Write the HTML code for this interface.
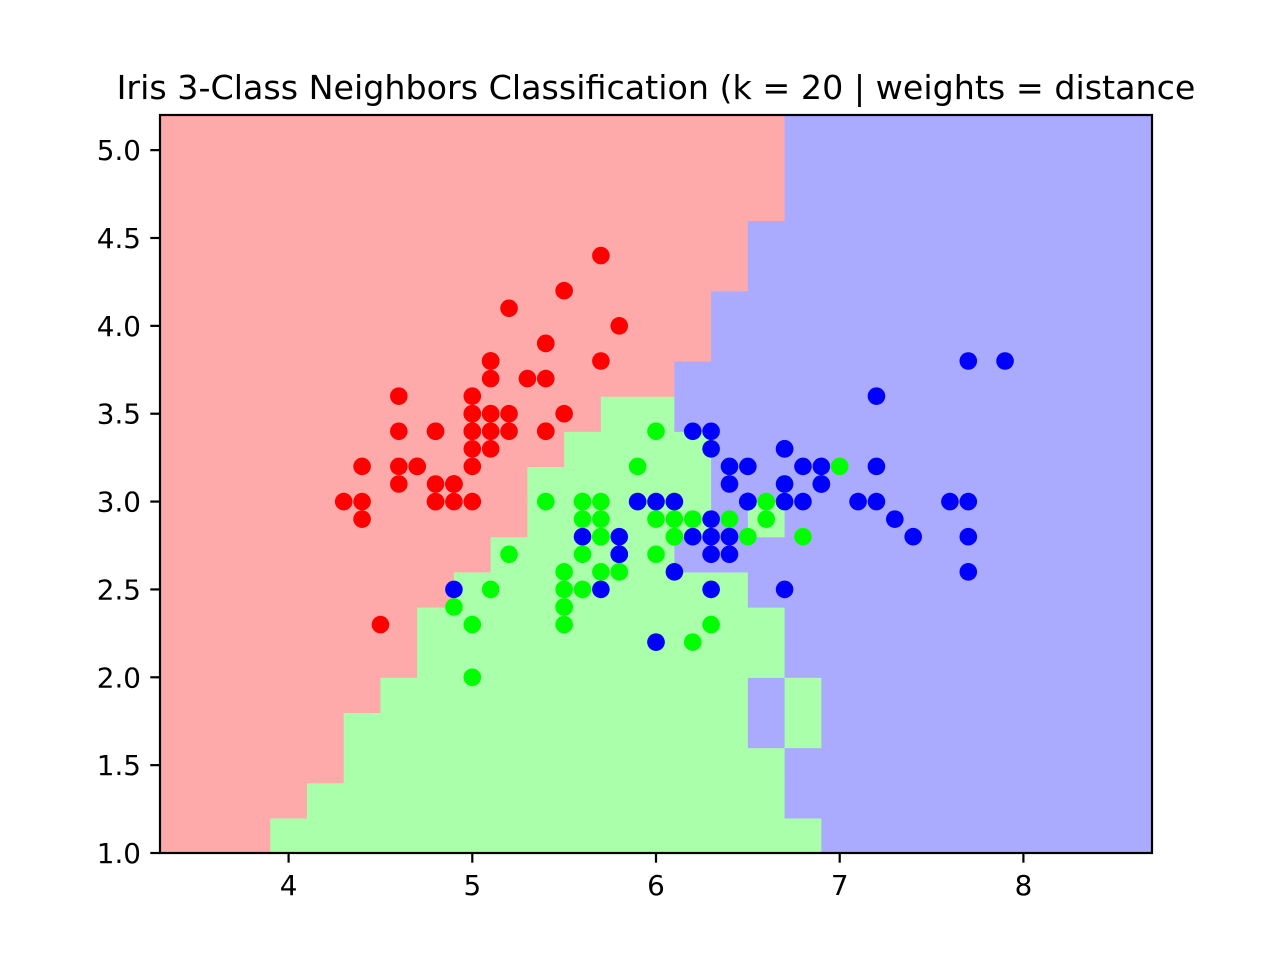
<!DOCTYPE html>
<html><head><meta charset="utf-8"><style>
body{margin:0;background:#fff}
svg{display:block;font-family:"DejaVu Sans","Liberation Sans",sans-serif}
</style></head><body>
<svg id="chart" width="1280" height="960">
<text x="656" y="99" text-anchor="middle" font-size="33.3" fill="#000">Iris 3-Class Neighbors Classification (k = 20 | weights = distance</text>
<g id="mesh"></g>
<g id="pts"></g>
<g id="axes"></g>
</svg>
<script>
// decision grid rows bottom→top (y from 1.0 step 0.2), cols x from 3.3 step 0.2; R/G/B
const gridRows = [
"RRRGGGGGGGGGGGGGGGBBBBBBBBB",
"RRRRGGGGGGGGGGGGGBBBBBBBBBB",
"RRRRRGGGGGGGGGGGGBBBBBBBBBB",
"RRRRRGGGGGGGGGGGBGBBBBBBBBB",
"RRRRRRGGGGGGGGGGBGBBBBBBBBB",
"RRRRRRRGGGGGGGGGGBBBBBBBBBB",
"RRRRRRRGGGGGGGGGGBBBBBBBBBB",
"RRRRRRRRGGGGGGGGBBBBBBBBBBB",
"RRRRRRRRRGGGGGBBBBBBBBBBBBB",
"RRRRRRRRRRGGGGGBGBBBBBBBBBB",
"RRRRRRRRRRGGGGGBBBBBBBBBBBB",
"RRRRRRRRRRRGGGGBBBBBBBBBBBB",
"RRRRRRRRRRRRGGBBBBBBBBBBBBB",
"RRRRRRRRRRRRRRBBBBBBBBBBBBB",
"RRRRRRRRRRRRRRRBBBBBBBBBBBB",
"RRRRRRRRRRRRRRRBBBBBBBBBBBB",
"RRRRRRRRRRRRRRRRBBBBBBBBBBB",
"RRRRRRRRRRRRRRRRBBBBBBBBBBB",
"RRRRRRRRRRRRRRRRRBBBBBBBBBB",
"RRRRRRRRRRRRRRRRRBBBBBBBBBB",
"RRRRRRRRRRRRRRRRRBBBBBBBBBB"];
const setosa = [[5.1,3.5],[4.9,3.0],[4.7,3.2],[4.6,3.1],[5.0,3.6],[5.4,3.9],[4.6,3.4],[5.0,3.4],[4.4,2.9],[4.9,3.1],[5.4,3.7],[4.8,3.4],[4.8,3.0],[4.3,3.0],[5.8,4.0],[5.7,4.4],[5.4,3.9],[5.1,3.5],[5.7,3.8],[5.1,3.8],[5.4,3.4],[5.1,3.7],[4.6,3.6],[5.1,3.3],[4.8,3.4],[5.0,3.0],[5.0,3.4],[5.2,3.5],[5.2,3.4],[4.7,3.2],[4.8,3.1],[5.4,3.4],[5.2,4.1],[5.5,4.2],[4.9,3.1],[5.0,3.2],[5.5,3.5],[4.9,3.1],[4.4,3.0],[5.1,3.4],[5.0,3.5],[4.5,2.3],[4.4,3.2],[5.0,3.5],[5.1,3.8],[4.8,3.0],[5.1,3.8],[4.6,3.2],[5.3,3.7],[5.0,3.3]];
const versicolor = [[7.0,3.2],[6.4,3.2],[6.9,3.1],[5.5,2.3],[6.5,2.8],[5.7,2.8],[6.3,3.3],[4.9,2.4],[6.6,2.9],[5.2,2.7],[5.0,2.0],[5.9,3.0],[6.0,2.2],[6.1,2.9],[5.6,2.9],[6.7,3.1],[5.6,3.0],[5.8,2.7],[6.2,2.2],[5.6,2.5],[5.9,3.2],[6.1,2.8],[6.3,2.5],[6.1,2.8],[6.4,2.9],[6.6,3.0],[6.8,2.8],[6.7,3.0],[6.0,2.9],[5.7,2.6],[5.5,2.4],[5.5,2.4],[5.8,2.7],[6.0,2.7],[5.4,3.0],[6.0,3.4],[6.7,3.1],[6.3,2.3],[5.6,3.0],[5.5,2.5],[5.5,2.6],[6.1,3.0],[5.8,2.6],[5.0,2.3],[5.6,2.7],[5.7,3.0],[5.7,2.9],[6.2,2.9],[5.1,2.5],[5.7,2.8]];
const virginica = [[6.3,3.3],[5.8,2.7],[7.1,3.0],[6.3,2.9],[6.5,3.0],[7.6,3.0],[4.9,2.5],[7.3,2.9],[6.7,2.5],[7.2,3.6],[6.5,3.2],[6.4,2.7],[6.8,3.0],[5.7,2.5],[5.8,2.8],[6.4,3.2],[6.5,3.0],[7.7,3.8],[7.7,2.6],[6.0,2.2],[6.9,3.2],[5.6,2.8],[7.7,2.8],[6.3,2.7],[6.7,3.3],[7.2,3.2],[6.2,2.8],[6.1,3.0],[6.4,2.8],[7.2,3.0],[7.4,2.8],[7.9,3.8],[6.4,2.8],[6.3,2.8],[6.1,2.6],[7.7,3.0],[6.3,3.4],[6.4,3.1],[6.0,3.0],[6.9,3.1],[6.7,3.1],[6.9,3.1],[5.8,2.7],[6.8,3.2],[6.7,3.3],[6.7,3.0],[6.3,2.5],[6.5,3.0],[6.2,3.4],[5.9,3.0]];
const xTicks = [4,5,6,7,8];
const yTicks = [1.0,1.5,2.0,2.5,3.0,3.5,4.0,4.5,5.0];

const NS="http://www.w3.org/2000/svg";
const L=160,R=1152,T=115,B=853;
const X0=3.3,X1=8.7,Y0=1.0,Y1=5.2;
const sx=v=>L+(v-X0)/(X1-X0)*(R-L);
const sy=v=>B-(v-Y0)/(Y1-Y0)*(B-T);
function mk(tag,attrs,parent){const e=document.createElementNS(NS,tag);for(const k in attrs)e.setAttribute(k,attrs[k]);parent.appendChild(e);return e;}
const bg={R:"#FFAAAA",G:"#AAFFAA",B:"#AAAAFF"};
const mesh=document.getElementById('mesh');
gridRows.forEach((row,j)=>{
  for(let i=0;i<row.length;i++){
    const xa=X0+0.2*i, ya=Y0+0.2*j;
    const ya2=Math.min(ya+0.2,Y1);
    const r=mk('rect',{x:sx(xa),y:sy(ya2),width:sx(xa+0.2)-sx(xa)+0.6,height:sy(ya)-sy(ya2)+0.6,fill:bg[row[i]]},mesh);
    
    
  }
});
const pts=document.getElementById('pts');
[[setosa,"#FF0000","setosa"],[versicolor,"#00FF00","versicolor"],[virginica,"#0000FF","virginica"]].forEach(([arr,c,n])=>{
  arr.forEach(p=>{
    const e=mk('circle',{cx:sx(p[0]),cy:sy(p[1]),r:8.8,fill:c},pts);
    
    
  });
});
const ax=document.getElementById('axes');
const frame=mk('rect',{x:L,y:T,width:R-L,height:B-T,fill:"none",stroke:"#000","stroke-width":2.2},ax);


xTicks.forEach(v=>{
  const x=sx(v);
  const t=mk('line',{x1:x,x2:x,y1:B,y2:B+9.7,stroke:"#000","stroke-width":2.2},ax);
  
  
  const l=mk('text',{x:x,y:B+42,"text-anchor":"middle","font-size":27.8},ax);
  l.textContent=String(v);
  
  
});
yTicks.forEach(v=>{
  const y=sy(v);
  const t=mk('line',{x1:L-9.7,x2:L,y1:y,y2:y,stroke:"#000","stroke-width":2.2},ax);
  
  
  const l=mk('text',{x:L-19,y:y+10,"text-anchor":"end","font-size":27.8},ax);
  l.textContent=v.toFixed(1);
  
  
});
</script>
</body></html>
